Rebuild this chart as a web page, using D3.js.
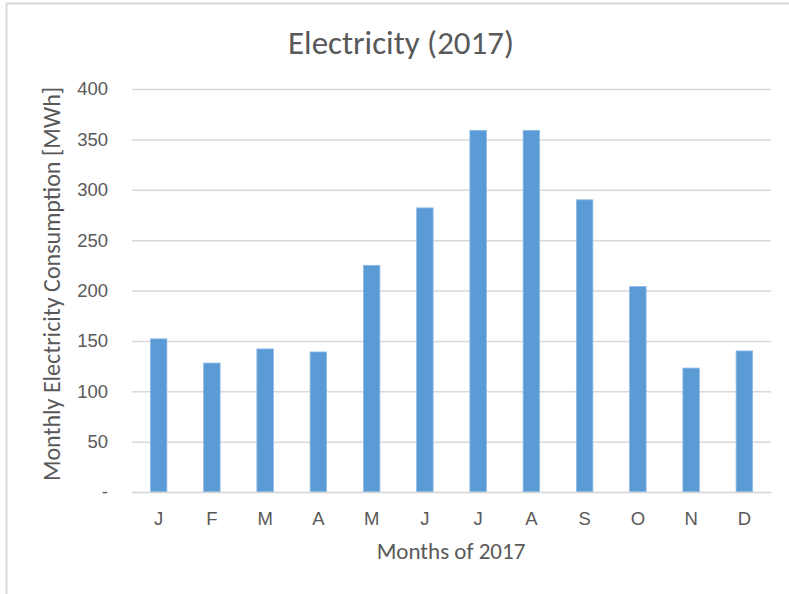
<!DOCTYPE html>
<html>
<head>
<meta charset="utf-8">
<script src="https://cdn.jsdelivr.net/npm/d3@7/dist/d3.min.js"></script>
<style>
  html, body { margin: 0; padding: 0; background: #fff; }
  svg { display: block; font-family: Carlito, Lato, "Open Sans", sans-serif; }
</style>
</head>
<body>
<svg id="chart" width="789" height="594"></svg>
<script>
// Monthly electricity consumption for 2017, in MWh
const months = ["J", "F", "M", "A", "M", "J", "J", "A", "S", "O", "N", "D"];
const consumption = [152, 128, 142, 139, 225, 282, 359, 359, 290, 204, 123, 140];
const yTicks = [0, 50, 100, 150, 200, 250, 300, 350, 400];

const chartTitle = "Electricity (2017)";
const xTitle = "Months of 2017";
const yTitle = "Monthly Electricity Consumption [MWh]";

const W = 789, H = 594;
const margin = { top: 89, right: 18, bottom: 102, left: 132 };
const innerW = W - margin.left - margin.right;
const innerH = H - margin.top - margin.bottom;

const svg = d3.select("#chart");

// chart frame (light border along top and left)
svg.append("rect")
  .attr("x", 6.5).attr("y", 3.5)
  .attr("width", W + 20).attr("height", H + 20)
  .attr("fill", "none")
  .attr("stroke", "#d9d9d9")
  .attr("stroke-width", 2);

const g = svg.append("g").attr("transform", `translate(${margin.left},${margin.top})`);

const idx = months.map((_, i) => i);
const x = d3.scaleBand().domain(idx).range([0, innerW]).paddingInner(0.69).paddingOuter(0.345);
const y = d3.scaleLinear().domain([0, 400]).range([innerH, 0]);

// horizontal gridlines + y tick labels
const yAxis = d3.axisLeft(y)
  .tickValues(yTicks)
  .tickSize(-innerW)
  .tickPadding(24)
  .tickFormat(d => d === 0 ? "-" : d3.format("d")(d));

const yg = g.append("g").call(yAxis);
yg.select(".domain").remove();
yg.selectAll(".tick line").attr("stroke", "#d9d9d9").attr("stroke-width", 1.5);
yg.selectAll(".tick text")
  .attr("fill", "#595959")
  .attr("font-size", 18.5);

// bars
g.append("g").selectAll("rect")
  .data(consumption)
  .join("rect")
  .attr("x", (d, i) => x(i))
  .attr("y", d => y(d))
  .attr("width", x.bandwidth())
  .attr("height", d => y(0) - y(d))
  .attr("fill", "#5b9bd5")
  .attr("stroke", "#8fbbe6")
  .attr("stroke-width", 0.8);

// x axis
const xAxis = d3.axisBottom(x)
  .tickFormat(i => months[i])
  .tickSize(0)
  .tickPadding(20);
const xg = g.append("g").attr("transform", `translate(0,${innerH})`).call(xAxis);
xg.select(".domain").attr("stroke", "#d9d9d9").attr("stroke-width", 1.5);
xg.selectAll(".tick text")
  .attr("fill", "#595959")
  .attr("font-size", 18.5);

// titles
svg.append("text")
  .attr("x", 401).attr("y", 54)
  .attr("text-anchor", "middle")
  .attr("fill", "#595959")
  .attr("font-size", 33)
  .text(chartTitle);

svg.append("text")
  .attr("x", 451).attr("y", 559)
  .attr("text-anchor", "middle")
  .attr("fill", "#595959")
  .attr("font-size", 23)
  .text(xTitle);

svg.append("text")
  .attr("transform", `translate(60,${(88 + 480) / 2}) rotate(-90)`)
  .attr("text-anchor", "middle")
  .attr("fill", "#595959")
  .attr("font-size", 24)
  .text(yTitle);
</script>
</body>
</html>
